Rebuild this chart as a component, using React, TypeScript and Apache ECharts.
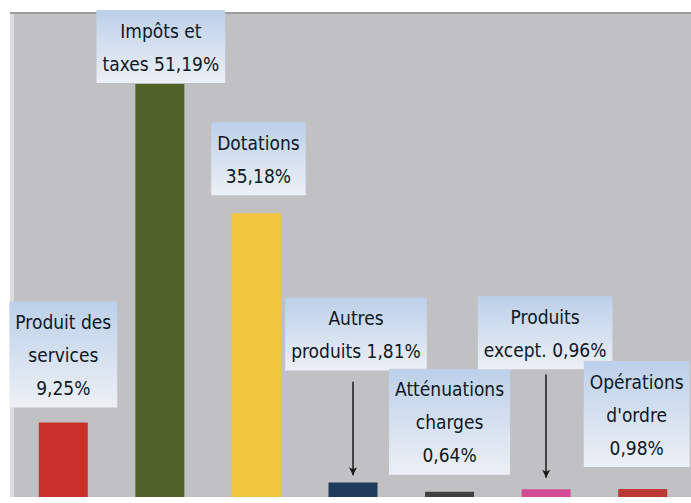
import React, { useEffect, useRef } from "react";
import * as echarts from "echarts";

const categories = [
  "Produit des services",
  "Impôts et taxes",
  "Dotations",
  "Autres produits",
  "Atténuations charges",
  "Produits except.",
  "Opérations d'ordre",
];
const values = [9.25, 51.19, 35.18, 1.81, 0.64, 0.96, 0.98];
const labelLines = [
  ["Produit des", "services", "9,25%"],
  ["Impôts et", "taxes 51,19%"],
  ["Dotations", "35,18%"],
  ["Autres", "produits 1,81%"],
  ["Atténuations", "charges", "0,64%"],
  ["Produits", "except. 0,96%"],
  ["Opérations", "d'ordre", "0,98%"],
];
const barColors = ["#c9302a", "#4f6228", "#f2c53f", "#1f3b5b", "#404040", "#d24b95", "#bb3a35"];
// label gap above bar (px) and horizontal shift
const labelDistance = [15, 1, 18, 112, 17, 120, 22];
const labelShift = [0, 1, 2, 3, 0, -1, -6];
// arrows: [category index, start value, end value]
const arrows: [number, number, number][] = [
  [3, 14.3, 2.7],
  [5, 15.2, 2.4],
];

export default function App() {
  const ref = useRef<HTMLDivElement>(null);
  useEffect(() => {
    if (!ref.current) return;
    const chart = echarts.init(ref.current, null, { renderer: "svg" });
    const bg = new echarts.graphic.LinearGradient(0, 0, 0, 1, [
      { offset: 0, color: "#bcd0ea" },
      { offset: 1, color: "#edf0f5" },
    ]);
    chart.setOption({
      animation: false,
      backgroundColor: "#ffffff",
      graphic: [
        {
          type: "rect",
          shape: { x: 10, y: 13, width: 681, height: 484 },
          style: { fill: "#c1c1c3" },
          z: -10,
        },
        {
          type: "rect",
          shape: { x: 10, y: 12, width: 681, height: 2 },
          style: { fill: "#9c9c9e" },
          z: -9,
        },
        {
          type: "rect",
          shape: { x: 10, y: 14, width: 4, height: 483 },
          style: { fill: "#dcdcde" },
          z: -9,
        },
      ],
      grid: { left: 15, right: -7, top: 13, bottom: 6 },
      xAxis: {
        type: "category",
        data: categories,
        axisLine: { show: false },
        axisTick: { show: false },
        axisLabel: { show: false },
      },
      yAxis: {
        type: "value",
        min: 0,
        max: 60,
        show: false,
        splitLine: { show: false },
      },
      series: [
        {
          type: "bar",
          barWidth: 49,
          data: values.map((v, i) => ({
            value: v,
            itemStyle: { color: barColors[i] },
            label: { distance: labelDistance[i], offset: [labelShift[i], 0] },
          })),
          label: {
            show: true,
            position: "top",
            formatter: (p: any) => labelLines[p.dataIndex].join("\n"),
            fontFamily: "'DejaVu Sans Condensed', 'DejaVu Sans', sans-serif",
            fontSize: 19,
            lineHeight: 33,
            color: "#0e1824",
            align: "center",
            backgroundColor: bg,
            padding: [4, 6, 3, 6],
          },
          markLine: {
            silent: true,
            symbol: ["none", "arrow"],
            symbolSize: [6, 8],
            label: { show: false },
            lineStyle: { color: "#1a1a1a", width: 1.5, type: "solid" },
            data: arrows.map(([c, a, b]) => [
              { coord: [c, a] },
              { coord: [c, b] },
            ]),
          },
        },
      ],
    });
    return () => chart.dispose();
  }, []);
  return (
    <div
      ref={ref}
      style={{ position: "fixed", left: 0, top: 0, width: 691, height: 503 }}
    />
  );
}
